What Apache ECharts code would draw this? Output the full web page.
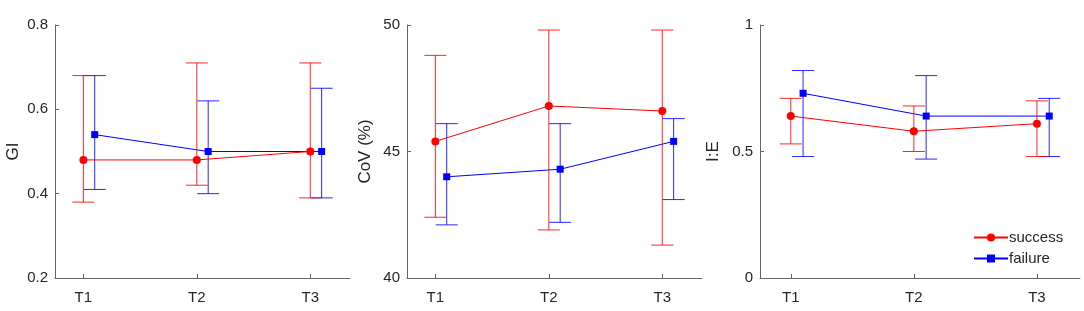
<!DOCTYPE html>
<html>
<head>
<meta charset="utf-8">
<script src="https://cdn.jsdelivr.net/npm/echarts@6/dist/echarts.min.js"></script>
<style>html,body{margin:0;padding:0;background:#fff;}#c{width:1084px;height:311px;}</style>
</head>
<body>
<div id="c"></div>
<script>
// ---- data ----
const categories = ['T1', 'T2', 'T3'];
const seriesNames = ['success', 'failure'];
// Panel 1: GI
const giSuccess = [0.48, 0.48, 0.50];
const giSuccessLow = [0.38, 0.42, 0.39];
const giSuccessHigh = [0.68, 0.71, 0.71];
const giFailure = [0.54, 0.50, 0.50];
const giFailureLow = [0.41, 0.40, 0.39];
const giFailureHigh = [0.68, 0.62, 0.65];
// Panel 2: CoV (%)
const covSuccess = [45.4, 46.8, 46.6];
const covSuccessLow = [42.4, 41.9, 41.3];
const covSuccessHigh = [48.8, 49.8, 49.8];
const covFailure = [44.0, 44.3, 45.4];
const covFailureLow = [42.1, 42.2, 43.1];
const covFailureHigh = [46.1, 46.1, 46.3];
// Panel 3: I:E
const ieSuccess = [0.64, 0.58, 0.61];
const ieSuccessLow = [0.53, 0.50, 0.48];
const ieSuccessHigh = [0.71, 0.68, 0.70];
const ieFailure = [0.73, 0.64, 0.64];
const ieFailureLow = [0.48, 0.47, 0.48];
const ieFailureHigh = [0.82, 0.80, 0.71];
// axis labels / ticks
const yNames = ['GI', 'CoV (%)', 'I:E'];
const yMin = [0.2, 40, 0];
const yMax = [0.8, 50, 1];
const yStep = [0.2, 5, 0.5];

// ---- chart ----
const FONT = '"Liberation Sans", Arial, Helvetica, sans-serif';
const RED = '#ff0000', BLUE = '#0000ff';
const FAIL_OFFSET = 0.1;
const grids = [
  {left: 55, top: 25, width: 295, height: 253},
  {left: 407, top: 25, width: 295, height: 253},
  {left: 760, top: 25, width: 320, height: 253}
];
const nameGaps = [33, 33, 38];
const tickVals = categories.map((c, i) => i + 1);

function yLabelFmt(v) {
  return String(Math.round(v * 1000) / 1000);
}

const xAxes = grids.map((g, i) => ({
  type: 'value', gridIndex: i, min: 0.75, max: 3.35,
  splitLine: {show: false},
  axisLine: {show: true, lineStyle: {color: '#666', width: 1}},
  axisTick: {show: true, inside: true, length: 4, customValues: tickVals, lineStyle: {color: '#666'}},
  axisLabel: {show: true, customValues: tickVals, margin: 12, color: '#262626', fontSize: 15, fontFamily: FONT,
    formatter: v => categories[Math.round(v) - 1] || ''}
}));
const yAxes = grids.map((g, i) => ({
  type: 'value', gridIndex: i, min: yMin[i], max: yMax[i], interval: yStep[i],
  name: yNames[i], nameLocation: 'middle', nameGap: nameGaps[i],
  nameTextStyle: {color: '#262626', fontSize: 17, fontFamily: FONT},
  splitLine: {show: false},
  axisLine: {show: true, lineStyle: {color: '#666', width: 1}},
  axisTick: {show: true, inside: true, length: 4, lineStyle: {color: '#666'}},
  axisLabel: {color: '#262626', fontSize: 15, fontFamily: FONT, margin: 7, formatter: yLabelFmt}
}));

function errRender(color) {
  return function (params, api) {
    const x = api.value(0), lo = api.value(1), hi = api.value(2);
    const pLo = api.coord([x, lo]), pHi = api.coord([x, hi]);
    const w = 11;
    const st = {stroke: color, lineWidth: 1, opacity: 0.85};
    return {type: 'group', children: [
      {type: 'line', shape: {x1: pLo[0], y1: pLo[1], x2: pHi[0], y2: pHi[1]}, style: st},
      {type: 'line', shape: {x1: pLo[0] - w, y1: pLo[1], x2: pLo[0] + w, y2: pLo[1]}, style: st},
      {type: 'line', shape: {x1: pHi[0] - w, y1: pHi[1], x2: pHi[0] + w, y2: pHi[1]}, style: st}
    ]};
  };
}

const panels = [
  [giSuccess, giSuccessLow, giSuccessHigh, giFailure, giFailureLow, giFailureHigh],
  [covSuccess, covSuccessLow, covSuccessHigh, covFailure, covFailureLow, covFailureHigh],
  [ieSuccess, ieSuccessLow, ieSuccessHigh, ieFailure, ieFailureLow, ieFailureHigh]
];

const series = [];
panels.forEach((p, i) => {
  const [sv, sl, sh, fv, fl, fh] = p;
  const xs = categories.map((c, k) => k + 1);
  const xf = categories.map((c, k) => k + 1 + FAIL_OFFSET);
  series.push({
    type: 'custom', xAxisIndex: i, yAxisIndex: i, renderItem: errRender(BLUE), silent: true,
    encode: {x: 0, y: [1, 2]}, data: xf.map((x, k) => [x, fl[k], fh[k]]), z: 2
  });
  series.push({
    name: seriesNames[1], type: 'line', xAxisIndex: i, yAxisIndex: i,
    data: xf.map((x, k) => [x, fv[k]]), symbol: 'rect', symbolSize: 7,
    lineStyle: {color: BLUE, width: 1}, itemStyle: {color: BLUE}, z: 3, animation: false
  });
  series.push({
    type: 'custom', xAxisIndex: i, yAxisIndex: i, renderItem: errRender(RED), silent: true,
    encode: {x: 0, y: [1, 2]}, data: xs.map((x, k) => [x, sl[k], sh[k]]), z: 4
  });
  series.push({
    name: seriesNames[0], type: 'line', xAxisIndex: i, yAxisIndex: i,
    data: xs.map((x, k) => [x, sv[k]]), symbol: 'circle', symbolSize: 8,
    lineStyle: {color: RED, width: 1}, itemStyle: {color: RED}, z: 5, animation: false
  });
});

const chart = echarts.init(document.getElementById('c'), null, {renderer: 'canvas'});
chart.setOption({
  animation: false,
  backgroundColor: '#fff',
  grid: grids,
  xAxis: xAxes,
  yAxis: yAxes,
  legend: {
    data: seriesNames, orient: 'vertical', left: 968, top: 225,
    itemWidth: 34, itemHeight: 10, itemGap: 6,
    textStyle: {color: '#262626', fontSize: 15, fontFamily: FONT, padding: [0, 0, 0, -4]}
  },
  series: series
});
</script>
</body>
</html>
